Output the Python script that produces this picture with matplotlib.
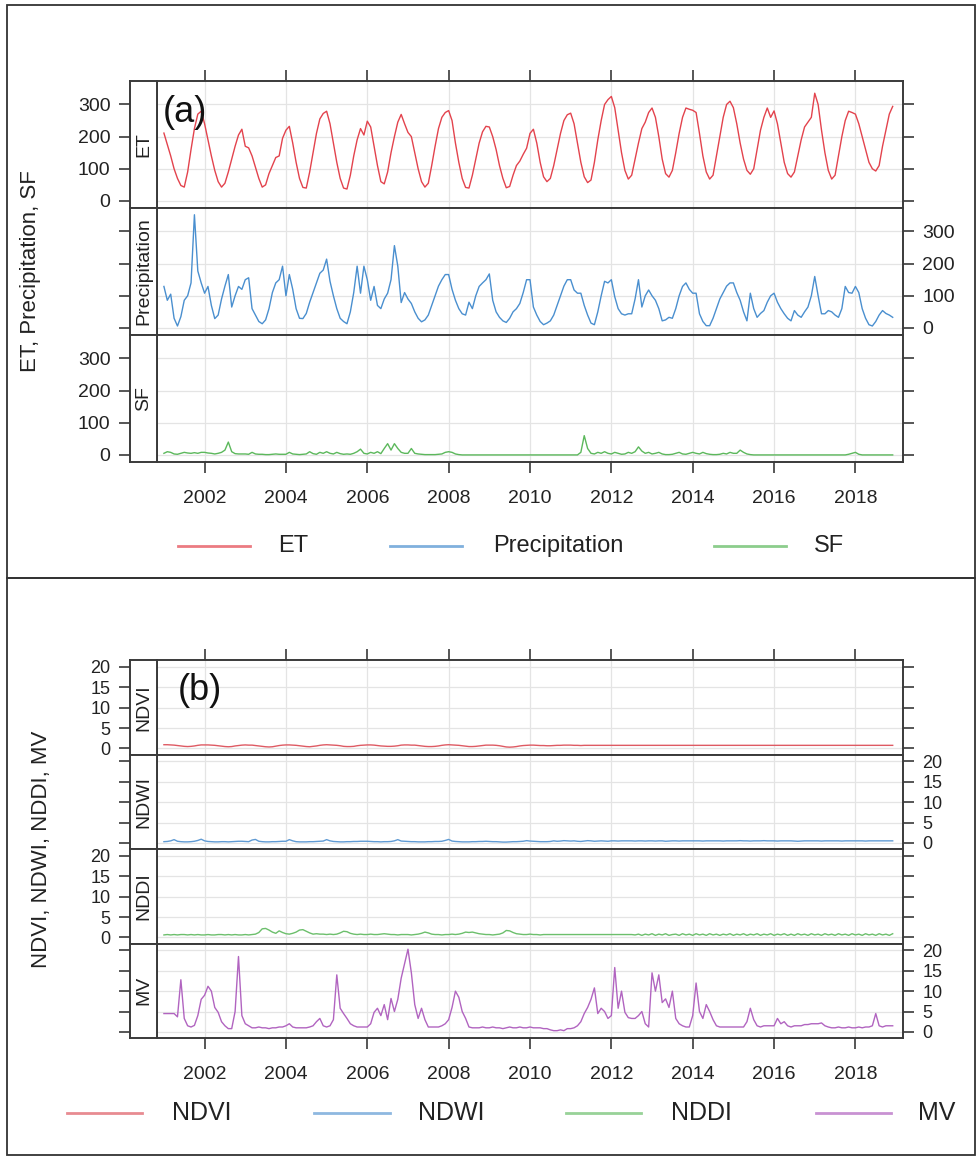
import numpy as np
import matplotlib
matplotlib.use('Agg')
import matplotlib.pyplot as plt
from matplotlib.patches import Rectangle
from matplotlib.lines import Line2D

plt.rcParams['font.family'] = ['Liberation Sans', 'DejaVu Sans']

W, H = 978, 1159

# monthly series, Jan 2001 .. Dec 2018
MONTHS = 2001 + np.arange(216) / 12.0
YEAR_TICKS = list(range(2002, 2019, 2))

ET = [211, 175, 140, 100, 70, 48, 43, 90, 160, 225, 270, 279,
      240, 190, 140, 95, 60, 43, 55, 90, 130, 170, 205, 223,
      170, 165, 140, 105, 70, 43, 50, 85, 110, 135, 140, 195,
      220, 232, 180, 120, 70, 42, 40, 90, 150, 210, 255, 272,
      279, 240, 180, 120, 70, 40, 37, 80, 140, 190, 225, 205,
      248, 230, 170, 110, 60, 53, 90, 150, 200, 245, 269, 240,
      213, 200, 150, 100, 60, 43, 55, 110, 170, 225, 260, 275,
      281, 250, 180, 120, 70, 42, 40, 80, 130, 180, 215, 232,
      230, 200, 160, 110, 70, 41, 45, 80, 110, 124, 145, 164,
      210, 223, 180, 120, 75, 60, 70, 110, 160, 210, 250, 268,
      273, 240, 180, 120, 75, 57, 65, 120, 190, 250, 300, 315,
      325, 290, 220, 150, 95, 68, 80, 130, 180, 225, 245, 275,
      289, 260, 200, 130, 85, 74, 95, 150, 210, 260, 289, 285,
      282, 275, 210, 140, 90, 68, 80, 140, 200, 260, 300, 310,
      290, 240, 180, 130, 95, 83, 100, 160, 220, 260, 289, 260,
      280, 240, 180, 120, 85, 74, 90, 140, 190, 230, 245, 260,
      335, 300, 220, 150, 95, 68, 80, 140, 200, 250, 279, 275,
      270, 240, 200, 160, 120, 100, 93, 110, 170, 220, 270, 294]

PRECIP = [129, 86, 105, 30, 6, 35, 86, 100, 140, 352, 177, 140,
          108, 129, 70, 29, 40, 90, 130, 166, 65, 100, 129, 120,
          150, 156, 60, 40, 20, 13, 25, 60, 110, 140, 150, 192,
          100, 166, 120, 60, 30, 29, 45, 80, 110, 140, 170, 180,
          214, 145, 100, 60, 30, 20, 13, 50, 110, 192, 108, 192,
          150, 86, 129, 70, 60, 90, 108, 150, 256, 192, 79, 110,
          90, 76, 50, 30, 19, 25, 40, 70, 100, 130, 150, 166,
          166, 120, 86, 60, 44, 40, 80, 60, 100, 129, 140, 150,
          168, 86, 50, 33, 22, 17, 30, 50, 60, 76, 110, 150,
          150, 65, 40, 20, 10, 15, 22, 40, 70, 100, 130, 150,
          150, 118, 108, 108, 70, 40, 15, 10, 50, 100, 145, 140,
          150, 97, 60, 44, 40, 44, 44, 90, 150, 65, 100, 118,
          100, 86, 60, 22, 25, 33, 30, 60, 100, 129, 140, 120,
          108, 108, 44, 20, 7, 7, 30, 60, 90, 110, 130, 140,
          140, 110, 86, 50, 22, 108, 60, 33, 45, 54, 80, 100,
          108, 80, 60, 44, 30, 22, 54, 40, 33, 50, 65, 100,
          160, 100, 44, 44, 54, 50, 40, 33, 60, 129, 110, 108,
          129, 110, 60, 30, 10, 6, 20, 40, 54, 45, 40, 33]

SF = [5, 10, 8, 3, 2, 5, 8, 6, 5, 7, 5, 8,
      8, 6, 5, 3, 5, 8, 15, 40, 10, 4, 3, 3,
      3, 2, 8, 3, 2, 2, 1, 1, 2, 3, 2, 2,
      2, 8, 3, 2, 1, 2, 3, 10, 4, 2, 8, 5,
      10, 5, 3, 8, 4, 2, 3, 2, 5, 10, 18, 5,
      3, 8, 5, 10, 4, 20, 35, 15, 35, 20, 8, 5,
      5, 20, 5, 3, 2, 1, 1, 1, 1, 2, 3, 8,
      10, 8, 3, 1, 0, 0, 0, 0, 0, 0, 0, 0,
      0, 0, 0, 0, 0, 0, 0, 0, 0, 0, 0, 0,
      0, 0, 0, 0, 0, 0, 0, 0, 0, 0, 0, 0,
      0, 0, 0, 8, 60, 20, 5, 3, 8, 5, 10, 5,
      3, 8, 5, 2, 3, 8, 5, 10, 25, 12, 5, 8,
      3, 5, 8, 3, 1, 1, 2, 5, 8, 3, 2, 5,
      8, 5, 3, 8, 4, 2, 1, 1, 2, 5, 3, 8,
      5, 5, 15, 8, 3, 1, 0, 0, 0, 0, 0, 0,
      0, 0, 0, 0, 0, 0, 0, 0, 0, 0, 0, 0,
      0, 0, 0, 0, 0, 0, 0, 0, 0, 0, 2, 5,
      8, 2, 0, 0, 0, 0, 0, 0, 0, 0, 0, 0]

NDVI = [0.9, 0.9, 0.85, 0.8, 0.7, 0.6, 0.5, 0.45, 0.5, 0.6, 0.75, 0.85,
        0.85, 0.85, 0.8, 0.75, 0.65, 0.55, 0.45, 0.4, 0.45, 0.6, 0.7, 0.8,
        0.85, 0.8, 0.8, 0.7, 0.6, 0.5, 0.4, 0.35, 0.4, 0.55, 0.7, 0.8,
        0.85, 0.85, 0.8, 0.75, 0.65, 0.55, 0.45, 0.4, 0.5, 0.6, 0.75, 0.85,
        0.9, 0.85, 0.8, 0.75, 0.65, 0.5, 0.45, 0.45, 0.5, 0.65, 0.75, 0.8,
        0.85, 0.85, 0.8, 0.7, 0.6, 0.55, 0.5, 0.5, 0.55, 0.65, 0.8, 0.85,
        0.85, 0.8, 0.8, 0.7, 0.6, 0.5, 0.45, 0.45, 0.5, 0.6, 0.75, 0.85,
        0.9, 0.85, 0.8, 0.75, 0.65, 0.55, 0.45, 0.45, 0.5, 0.6, 0.7, 0.8,
        0.8, 0.8, 0.75, 0.65, 0.5, 0.35, 0.3, 0.35, 0.45, 0.6, 0.7, 0.75,
        0.8, 0.8, 0.75, 0.7, 0.7, 0.65, 0.65, 0.7, 0.75, 0.75, 0.8, 0.8,
        0.8, 0.75, 0.75, 0.7, 0.75, 0.75, 0.75, 0.75, 0.75, 0.75, 0.75, 0.75,
        0.75, 0.75, 0.75, 0.75, 0.75, 0.75, 0.75, 0.75, 0.75, 0.75, 0.75, 0.75,
        0.75, 0.75, 0.75, 0.75, 0.75, 0.75, 0.75, 0.75, 0.75, 0.75, 0.75, 0.75,
        0.75, 0.75, 0.75, 0.75, 0.75, 0.75, 0.75, 0.75, 0.75, 0.75, 0.75, 0.75,
        0.75, 0.75, 0.75, 0.75, 0.75, 0.75, 0.75, 0.75, 0.75, 0.75, 0.75, 0.75,
        0.75, 0.75, 0.75, 0.75, 0.75, 0.75, 0.75, 0.75, 0.75, 0.75, 0.75, 0.75,
        0.75, 0.75, 0.75, 0.75, 0.75, 0.75, 0.75, 0.75, 0.75, 0.75, 0.75, 0.75,
        0.75, 0.75, 0.75, 0.75, 0.75, 0.75, 0.75, 0.75, 0.75, 0.75, 0.75, 0.75]

NDWI = [0.3, 0.35, 0.5, 0.8, 0.4, 0.3, 0.25, 0.25, 0.3, 0.4, 0.6, 0.9,
        0.5, 0.35, 0.3, 0.25, 0.25, 0.3, 0.3, 0.25, 0.3, 0.35, 0.4, 0.4,
        0.35, 0.3, 0.7, 0.85, 0.4, 0.3, 0.25, 0.25, 0.3, 0.3, 0.35, 0.4,
        0.4, 0.8, 0.5, 0.3, 0.25, 0.25, 0.25, 0.3, 0.3, 0.35, 0.4, 0.45,
        0.8, 0.5, 0.35, 0.3, 0.25, 0.25, 0.3, 0.3, 0.35, 0.35, 0.4, 0.4,
        0.4, 0.35, 0.3, 0.3, 0.25, 0.3, 0.3, 0.35, 0.5, 0.8, 0.45, 0.4,
        0.35, 0.3, 0.3, 0.25, 0.25, 0.25, 0.3, 0.3, 0.35, 0.35, 0.4, 0.6,
        0.85, 0.45, 0.35, 0.3, 0.25, 0.25, 0.25, 0.3, 0.3, 0.35, 0.35, 0.4,
        0.35, 0.3, 0.3, 0.25, 0.2, 0.2, 0.25, 0.3, 0.3, 0.35, 0.4, 0.55,
        0.45, 0.4, 0.35, 0.3, 0.3, 0.3, 0.35, 0.5, 0.4, 0.45, 0.55, 0.5,
        0.45, 0.5, 0.4, 0.35, 0.45, 0.55, 0.5, 0.4, 0.45, 0.5, 0.45, 0.4,
        0.5, 0.5, 0.45, 0.5, 0.5, 0.5, 0.5, 0.45, 0.5, 0.5, 0.45, 0.5,
        0.5, 0.45, 0.5, 0.5, 0.4, 0.45, 0.5, 0.5, 0.45, 0.5, 0.5, 0.5,
        0.5, 0.5, 0.5, 0.45, 0.5, 0.5, 0.5, 0.5, 0.5, 0.45, 0.5, 0.5,
        0.5, 0.5, 0.55, 0.5, 0.5, 0.45, 0.5, 0.5, 0.5, 0.55, 0.5, 0.5,
        0.5, 0.45, 0.5, 0.5, 0.5, 0.5, 0.45, 0.4, 0.45, 0.5, 0.5, 0.5,
        0.5, 0.5, 0.45, 0.5, 0.5, 0.5, 0.5, 0.5, 0.45, 0.5, 0.5, 0.5,
        0.5, 0.5, 0.5, 0.45, 0.5, 0.5, 0.5, 0.5, 0.5, 0.5, 0.5, 0.5]

NDDI = [0.6, 0.7, 0.6, 0.7, 0.6, 0.7, 0.7, 0.6, 0.7, 0.6, 0.7, 0.6,
        0.6, 0.7, 0.6, 0.6, 0.7, 0.7, 0.6, 0.7, 0.6, 0.7, 0.6, 0.6,
        0.7, 0.6, 0.7, 0.8, 1.2, 2.1, 2.2, 1.8, 1.3, 1.0, 1.6, 1.2,
        0.9, 0.8, 1.0, 1.3, 1.8, 1.9, 1.5, 1.1, 0.8, 0.9, 0.8, 0.8,
        0.7, 0.8, 0.7, 0.8, 1.1, 1.5, 1.4, 1.0, 0.8, 0.7, 0.8, 0.7,
        0.7, 0.8, 0.7, 0.7, 0.8, 0.9, 0.8, 0.7, 0.7, 0.6, 0.7, 0.7,
        0.7, 0.6, 0.7, 0.8, 1.0, 1.3, 1.1, 0.8, 0.7, 0.7, 0.6, 0.7,
        0.7, 0.8, 0.7, 0.8, 1.0, 1.3, 1.2, 1.3, 1.1, 0.9, 0.8, 0.7,
        0.7, 0.6, 0.7, 0.8, 1.1, 1.7, 1.6, 1.2, 0.9, 0.8, 0.7, 0.7,
        0.8, 0.7, 0.7, 0.6, 0.7, 0.7, 0.7, 0.7, 0.7, 0.7, 0.7, 0.7,
        0.7, 0.7, 0.7, 0.7, 0.7, 0.7, 0.7, 0.7, 0.7, 0.7, 0.7, 0.7,
        0.7, 0.7, 0.7, 0.7, 0.7, 0.7, 0.7, 0.6, 0.8, 0.5, 0.8, 0.6,
        0.9, 0.5, 0.8, 0.6, 0.9, 0.5, 0.7, 0.8, 0.5, 0.9, 0.6, 0.8,
        0.5, 0.9, 0.6, 0.8, 0.5, 0.9, 0.6, 0.8, 0.5, 0.8, 0.6, 0.9,
        0.5, 0.8, 0.6, 0.9, 0.5, 0.8, 0.6, 0.9, 0.5, 0.8, 0.6, 0.9,
        0.5, 0.8, 0.6, 0.9, 0.5, 0.8, 0.5, 0.9, 0.6, 0.8, 0.5, 0.9,
        0.6, 0.8, 0.5, 0.9, 0.6, 0.8, 0.5, 0.9, 0.6, 0.8, 0.5, 0.9,
        0.6, 0.8, 0.5, 0.9, 0.6, 0.8, 0.5, 0.9, 0.6, 0.8, 0.5, 0.9]

MV = [4.5, 4.5, 4.5, 4.5, 3.7, 12.8, 3.3, 1.5, 1.2, 1.6, 4.0, 8.0,
      9.0, 11.2, 10.0, 6.0, 4.8, 2.5, 1.5, 0.8, 0.8, 5.0, 18.5, 4.0,
      2.0, 1.5, 1.0, 1.0, 1.2, 1.0, 1.0, 0.8, 1.0, 1.0, 1.2, 1.2,
      1.5, 2.0, 1.2, 1.0, 1.0, 1.0, 1.0, 1.2, 1.5, 2.5, 3.3, 1.5,
      1.2, 1.5, 3.0, 14.0, 5.8, 4.5, 3.3, 2.0, 1.5, 1.2, 1.2, 1.2,
      1.2, 2.0, 4.8, 5.8, 4.0, 6.7, 3.0, 8.2, 5.0, 8.0, 13.2, 16.8,
      20.3, 14.5, 6.7, 3.3, 5.8, 3.0, 1.2, 1.2, 1.2, 1.2, 1.5, 2.0,
      3.0, 6.0, 10.0, 8.5, 5.0, 3.3, 1.2, 1.0, 1.0, 1.0, 1.2, 1.0,
      1.0, 1.2, 1.0, 1.0, 0.8, 1.0, 1.2, 1.0, 1.0, 1.2, 1.0, 1.0,
      1.2, 1.0, 1.0, 1.0, 0.8, 0.8, 0.5, 0.3, 0.3, 0.5, 0.3, 0.8,
      0.8, 1.0, 1.5, 2.5, 4.5, 6.0, 8.0, 10.8, 4.5, 5.8, 5.0, 3.3,
      4.0, 15.8, 5.8, 10.0, 4.8, 3.5, 3.3, 3.3, 4.0, 5.0, 2.0, 1.2,
      14.5, 10.0, 14.0, 7.2, 8.1, 6.0, 10.0, 3.3, 2.0, 1.5, 1.2, 1.2,
      4.0, 12.0, 5.0, 3.3, 6.7, 5.0, 3.0, 1.5, 1.2, 1.2, 1.2, 1.2,
      1.2, 1.2, 1.2, 1.2, 2.5, 5.8, 3.0, 1.5, 1.2, 1.5, 1.5, 1.5,
      1.5, 3.3, 2.0, 2.5, 1.5, 1.2, 1.5, 1.5, 1.5, 1.8, 1.8, 2.0,
      2.0, 2.0, 2.2, 1.5, 1.2, 1.0, 1.0, 1.2, 1.0, 1.0, 1.2, 1.0,
      1.0, 1.2, 1.0, 1.2, 1.2, 1.5, 4.5, 1.5, 1.2, 1.5, 1.5, 1.5]

NAMES_A = ['ET', 'Precipitation', 'SF']
COLORS_A = ['#e3434d', '#4a8fcf', '#5cb85c']
NAMES_B = ['NDVI', 'NDWI', 'NDDI', 'MV']
COLORS_B = ['#de5a63', '#5f9ad3', '#6cbf6c', '#b164c0']

FRAME = '#3a3a3a'
GRID = '#e4e4e4'
TXT = '#222222'


def fx(px):
    return px / W


def fy(py):
    return 1 - py / H


def draw_group(fig, series, names, colors, top, bottom, ylim, yticks,
               ytick_size):
    n = len(series)
    h = (bottom - top) / n
    for i in range(n):
        t = top + i * h
        ax = fig.add_axes([fx(157), fy(t + h), (903 - 157) / W, h / H])
        st = fig.add_axes([fx(130), fy(t + h), (157 - 130) / W, h / H])

        ax.plot(MONTHS, series[i], color=colors[i], lw=1.0)
        ax.set_xlim(2000.83, 2019.17)
        ax.set_ylim(*ylim)
        ax.set_xticks(YEAR_TICKS)
        ax.set_xticklabels([str(y) for y in YEAR_TICKS])
        ax.set_yticks(yticks)
        ax.grid(True, color=GRID, lw=0.9)
        ax.set_axisbelow(True)

        left_lab = (i % 2 == 0)
        # right side ticks live on the panel, left side ones on the strip
        ax.tick_params(axis='y', direction='out', length=8, width=1.2,
                       color=FRAME, left=False, right=True,
                       labelleft=False, labelright=not left_lab,
                       labelsize=ytick_size, labelcolor=TXT, pad=6)
        is_top = (i == 0)
        is_bot = (i == n - 1)
        ax.tick_params(axis='x', direction='out', length=8, width=1.2,
                       color=FRAME, top=is_top, bottom=is_bot,
                       labeltop=False, labelbottom=is_bot,
                       labelsize=14, labelcolor=TXT, pad=12)

        st.set_ylim(*ylim)
        st.set_yticks(yticks)
        st.set_xticks([])
        st.tick_params(axis='y', direction='out', length=8, width=1.2,
                       color=FRAME, left=True, right=False,
                       labelleft=left_lab, labelsize=ytick_size,
                       labelcolor=TXT, pad=6)
        st.text(0.5, 0.5, names[i], rotation=90, ha='center', va='center',
                fontsize=14, color=TXT, transform=st.transAxes)

        for a in (ax, st):
            for s in a.spines.values():
                s.set_color(FRAME)
                s.set_linewidth(1.4)


def draw_legend(fig, names, colors, line_x, text_x, y, size):
    for name, col, lx, tx in zip(names, colors, line_x, text_x):
        fig.add_artist(Line2D([fx(lx[0]), fx(lx[1])], [fy(y), fy(y)],
                              transform=fig.transFigure, color=col,
                              lw=2.0, alpha=0.7))
        fig.text(fx(tx), fy(y), name, ha='left', va='center',
                 fontsize=size, color=TXT)


fig = plt.figure(figsize=(W / 100, H / 100), dpi=100)

# outer boxes
for y0, y1 in [(5, 578), (578, 1155)]:
    fig.add_artist(Rectangle((fx(7), fy(y1)), (975 - 7) / W, (y1 - y0) / H,
                             transform=fig.transFigure, fill=False,
                             ec='#333333', lw=1.3))

# panel (a)
draw_group(fig, [ET, PRECIP, SF], NAMES_A, COLORS_A, 81, 462,
           (-22, 373), [0, 100, 200, 300], 14)
fig.text(fx(31), fy(271), 'ET, Precipitation, SF', rotation=90,
         ha='center', va='center', fontsize=16, color=TXT)
fig.text(fx(163), fy(112), '(a)', ha='left', va='center', fontsize=26,
         color='#111111', zorder=5)
draw_legend(fig, NAMES_A, COLORS_A,
            [(178, 250), (390, 462), (714, 786)], [278, 493, 814], 546, 17)

# panel (b)
draw_group(fig, [NDVI, NDWI, NDDI, MV], NAMES_B, COLORS_B, 660, 1038,
           (-1.5, 21.7), [0, 5, 10, 15, 20], 13)
fig.text(fx(42), fy(849), 'NDVI, NDWI, NDDI, MV', rotation=90,
         ha='center', va='center', fontsize=16, color=TXT)
fig.text(fx(178), fy(690), '(b)', ha='left', va='center', fontsize=26,
         color='#111111', zorder=5)
draw_legend(fig, NAMES_B, COLORS_B,
            [(67, 142), (314, 390), (566, 641), (816, 891)],
            [172, 418, 671, 918], 1113, 18)

fig.savefig('out.png', dpi=100)
